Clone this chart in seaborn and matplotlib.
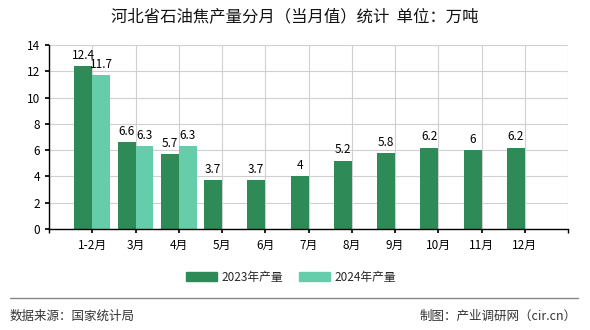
import matplotlib
matplotlib.use("Agg")
import matplotlib.pyplot as plt
import seaborn as sns
import pandas as pd
import numpy as np

months = ["1-2月", "3月", "4月", "5月", "6月", "7月", "8月", "9月", "10月", "11月", "12月"]
v2023 = [12.4, 6.6, 5.7, 3.7, 3.7, 4, 5.2, 5.8, 6.2, 6, 6.2]
v2024 = [11.7, 6.3, 6.3]
series = ["2023年产量", "2024年产量"]
colors = ["#2e8b57", "#66cdaa"]

rows = []
for m, v in zip(months, v2023):
    rows.append({"月份": m, "系列": series[0], "值": v})
for m, v in zip(months, v2024):
    rows.append({"月份": m, "系列": series[1], "值": v})
df = pd.DataFrame(rows)

sns.set_theme(style="white")
plt.rcParams['font.family'] = ['Noto Sans CJK SC', 'DejaVu Sans']

fig = plt.figure(figsize=(5.9, 3.3), dpi=100)
ax = fig.add_axes([49/590, 1-229/330, (568-49)/590, (229-45)/330])

sns.barplot(data=df, x="月份", y="值", hue="系列", order=months, hue_order=series,
            palette=colors, width=0.83, ax=ax, saturation=1, legend=False,
            linewidth=0, edgecolor="none")

for c in ax.containers:
    labels = [("%g" % b.get_height()) for b in c]
    ax.bar_label(c, labels=labels, padding=3, fontsize=8.5, color="black")

ax.set_xlim(-1, 11)
ax.set_ylim(0, 14)
ax.set_yticks(np.arange(0, 15, 2))
ax.set_xticks(range(len(months)))
ax.set_xticklabels(months)
ax.set_xticks([-1, 11], minor=True)
ax.set_xlabel("")
ax.set_ylabel("")
ax.grid(True, which="both", axis="x", color="#d0d0d0", linewidth=0.8)
ax.grid(True, axis="y", color="#d0d0d0", linewidth=0.8)
ax.set_axisbelow(True)
for s in ["top", "right"]:
    ax.spines[s].set_visible(False)
ax.spines["left"].set_color("black")
ax.spines["bottom"].set_color("black")
ax.spines["left"].set_linewidth(1)
ax.spines["bottom"].set_linewidth(1)
ax.tick_params(axis="both", which="both", labelsize=8.5, colors="black", length=3, direction="out",
               bottom=True, left=True)
ax.tick_params(axis="x", pad=4)

fig.text(295/590, 1-17/330, "河北省石油焦产量分月（当月值）统计  单位：万吨", ha="center", va="center",
         fontsize=11.8, color="#111111")

from matplotlib.patches import Patch
handles = [Patch(color=colors[0]), Patch(color=colors[1])]
fig.legend(handles, series, loc="center", bbox_to_anchor=(291/590, 1-277/330), ncol=2,
           frameon=False, fontsize=8.5, handlelength=2.6, handleheight=0.9,
           columnspacing=1.4, handletextpad=0.35)

fig.add_artist(plt.Line2D([10/590, 578/590], [1-298/330, 1-298/330], color="#888888", linewidth=1))
fig.text(10/590, 1-316/330, "数据来源：国家统计局", ha="left", va="center", fontsize=9, color="#333333")
fig.text(577/590, 1-316/330, "制图：产业调研网（cir.cn）", ha="right", va="center", fontsize=9, color="#333333")

fig.savefig("out.png", dpi=100)
